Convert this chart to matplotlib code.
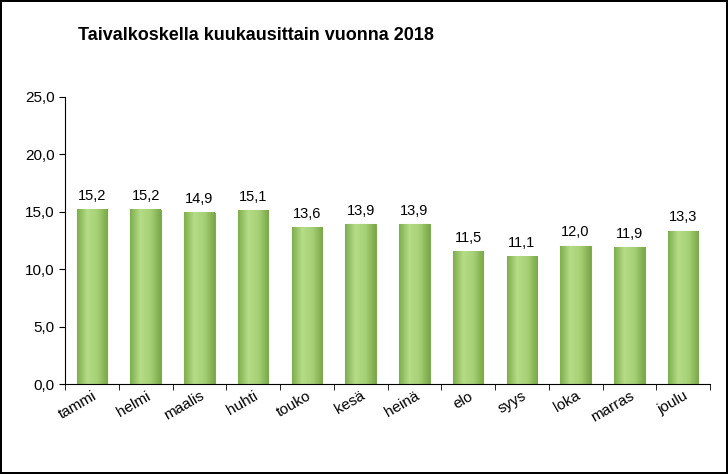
import matplotlib
matplotlib.use("Agg")
import matplotlib.pyplot as plt
import numpy as np
from matplotlib.colors import LinearSegmentedColormap

months = ["tammi","helmi","maalis","huhti","touko","kesä","heinä","elo","syys","loka","marras","joulu"]
values = [15.2,15.2,14.9,15.1,13.6,13.9,13.9,11.5,11.1,12.0,11.9,13.3]
yticks = [0,5,10,15,20,25]

fig = plt.figure(figsize=(7.28,4.74), dpi=100)
fig.patch.set_edgecolor("black"); fig.patch.set_linewidth(1.5)
ax = fig.add_axes([65/728, 1-384/474, 645/728, 287/474])
x = np.arange(len(months))
bars = ax.bar(x, values, width=0.57, color="#a9d37a", edgecolor="#7fa852", linewidth=0.8, zorder=2)
cmap = LinearSegmentedColormap.from_list("g", ["#7fae4e","#b5dc86","#a6d076","#7aa748"])
grad = np.linspace(0,1,64).reshape(1,-1)
for b in bars:
    ax.imshow(grad, cmap=cmap, aspect="auto", zorder=2.5,
              extent=[b.get_x(), b.get_x()+b.get_width(), 0, b.get_height()])
for xi, v in zip(x, values):
    ax.text(xi, v+0.6, f"{v:.1f}".replace(".", ","), ha="center", va="bottom", fontsize=10.5, family="Liberation Sans")
ax.set_xlim(-0.5, len(months)-0.5)
ax.set_ylim(0,25)
ax.set_yticks(yticks)
ax.set_yticklabels([f"{t:.1f}".replace(".", ",") for t in yticks], fontsize=11, family="Liberation Sans")
ax.set_xticks(x)
ax.set_xticklabels(months, rotation=30, ha="right", rotation_mode="anchor", fontsize=11, family="Liberation Sans")
ax.tick_params(axis="x", length=0)
ax.set_xticks(np.arange(-0.5, len(months)), minor=True)
ax.tick_params(axis="x", which="minor", length=4)
ax.tick_params(axis="y", length=4)
for s in ["top","right"]:
    ax.spines[s].set_visible(False)
fig.text(78/728, 1-35/474, "Taivalkoskella kuukausittain vuonna 2018", fontsize=13, fontweight="bold",
         family="Liberation Sans", va="center")
fig.savefig("out.png", dpi=100, edgecolor=fig.get_edgecolor())
